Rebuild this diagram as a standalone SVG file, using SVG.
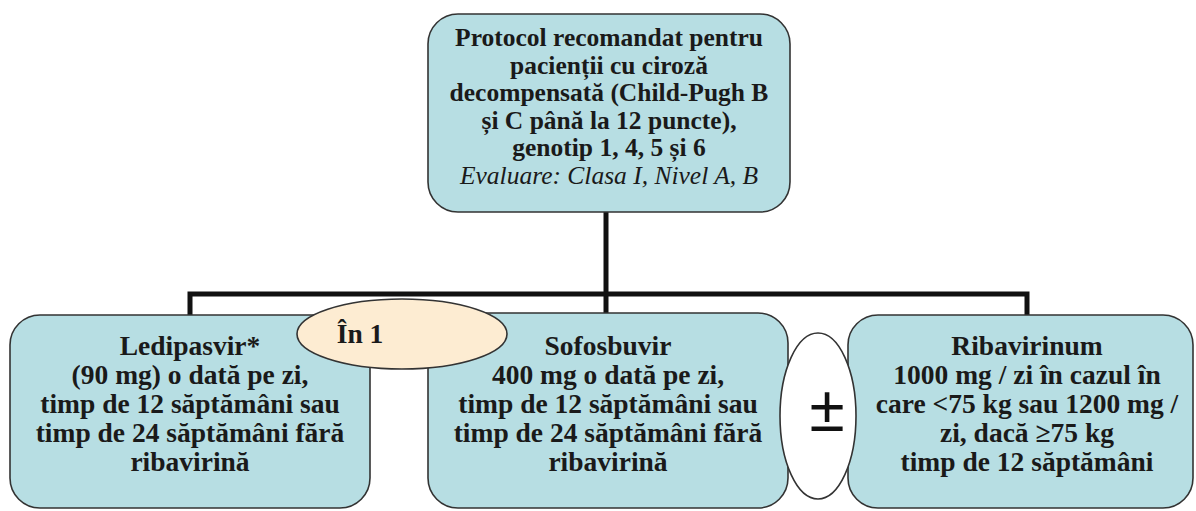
<svg xmlns="http://www.w3.org/2000/svg" width="1196" height="511" viewBox="0 0 1196 511">
  <style>
    .box { fill: #b7dee3; stroke: #333333; stroke-width: 1.6; }
    .wire { fill: none; stroke: #111111; stroke-width: 5; }
    .t { font-family: "Liberation Serif", "Times New Roman", serif; font-weight: bold; fill: #1a1a1a; text-anchor: middle; }
    .top { font-size: 25.5px; }
    .bot { font-size: 27.5px; }
    .it { font-style: italic; font-weight: normal; }
  </style>

  <rect width="1196" height="511" fill="#ffffff"/>

  <!-- connectors -->
  <g id="connectors">
    <path class="wire" d="M606 212 V313"/>
    <path class="wire" d="M190 316 V294 H1027 V316"/>
  </g>

  <!-- root node -->
  <g id="protocol">
    <rect class="box" x="428" y="14" width="362" height="198" rx="30"/>
    <text class="t top" x="609" y="46">Protocol recomandat pentru</text>
    <text class="t top" x="609" y="73.5">pacienții cu ciroză</text>
    <text class="t top" x="609" y="101">decompensată (Child-Pugh B</text>
    <text class="t top" x="609" y="128.5">și C până la 12 puncte),</text>
    <text class="t top" x="609" y="156">genotip 1, 4, 5 și 6</text>
    <text class="t top it" x="609" y="183.5">Evaluare: Clasa I, Nivel A, B</text>
  </g>

  <!-- ledipasvir -->
  <g id="ledipasvir">
    <rect class="box" x="10" y="315" width="360" height="193" rx="30"/>
    <text class="t bot" x="190" y="355">Ledipasvir*</text>
    <text class="t bot" x="190" y="384">(90 mg) o dată pe zi,</text>
    <text class="t bot" x="190" y="413">timp de 12 săptămâni sau</text>
    <text class="t bot" x="190" y="442">timp de 24 săptămâni fără</text>
    <text class="t bot" x="190" y="471">ribavirină</text>
  </g>

  <!-- sofosbuvir -->
  <g id="sofosbuvir">
    <rect class="box" x="428" y="313" width="360" height="195" rx="30"/>
    <text class="t bot" x="608" y="355">Sofosbuvir</text>
    <text class="t bot" x="608" y="384">400 mg o dată pe zi,</text>
    <text class="t bot" x="608" y="413">timp de 12 săptămâni sau</text>
    <text class="t bot" x="608" y="442">timp de 24 săptămâni fără</text>
    <text class="t bot" x="608" y="471">ribavirină</text>
  </g>

  <!-- ribavirinum -->
  <g id="ribavirinum">
    <rect class="box" x="848" y="315" width="345" height="193" rx="30"/>
    <text class="t bot" x="1027" y="355">Ribavirinum</text>
    <text class="t bot" x="1027" y="384">1000 mg / zi în cazul în</text>
    <text class="t bot" x="1027" y="413">care &lt;75 kg sau 1200 mg /</text>
    <text class="t bot" x="1027" y="442">zi, dacă ≥75 kg</text>
    <text class="t bot" x="1027" y="471">timp de 12 săptămâni</text>
  </g>

  <!-- combination badge -->
  <g id="in-one">
    <ellipse cx="402" cy="334" rx="105" ry="35" fill="#fdecd2" stroke="#333333" stroke-width="1.6"/>
    <text class="t bot" x="360" y="343">În 1</text>
  </g>

  <!-- optional add-on badge -->
  <g id="plus-minus">
    <ellipse cx="818" cy="416" rx="38" ry="83" fill="#ffffff" stroke="#333333" stroke-width="1.6"/>
    <text x="827" y="431" font-family="Liberation Sans, Arial, sans-serif" font-size="64" fill="#111111" text-anchor="middle">±</text>
  </g>
</svg>
